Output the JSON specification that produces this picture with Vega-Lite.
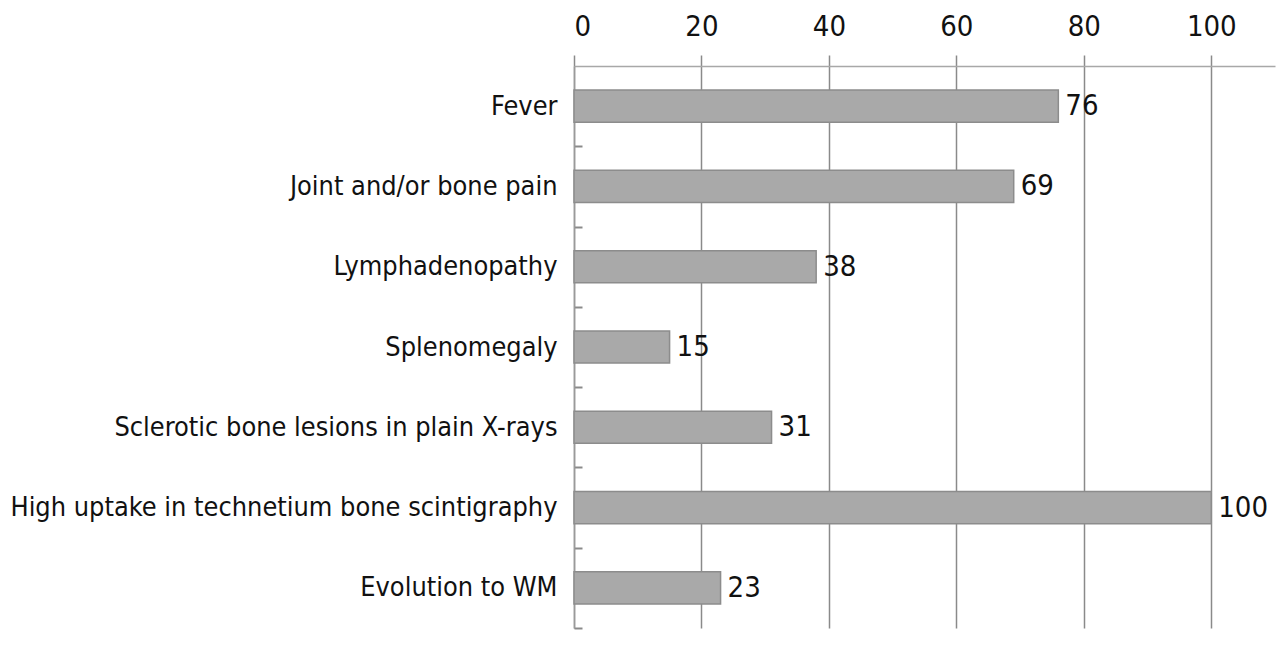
{
  "$schema": "https://vega.github.io/schema/vega-lite/v6.json",
  "autosize": "none",
  "width": 701,
  "height": 562,
  "padding": {"left": 574, "top": 66, "right": 5, "bottom": 22},
  "background": "white",
  "config": {"view": {"stroke": null}, "font": "DejaVu Sans Condensed"},
  "data": {"values": [
    {"item": "Fever", "pct": 76},
    {"item": "Joint and/or bone pain", "pct": 69},
    {"item": "Lymphadenopathy", "pct": 38},
    {"item": "Splenomegaly", "pct": 15},
    {"item": "Sclerotic bone lesions in plain X-rays", "pct": 31},
    {"item": "High uptake in technetium bone scintigraphy", "pct": 100},
    {"item": "Evolution to WM", "pct": 23}
  ]},
  "encoding": {
    "y": {"field": "item", "type": "nominal", "sort": null,
      "scale": {"paddingInner": 0.6, "paddingOuter": 0.3},
      "axis": {"title": null, "orient": "left", "domain": true, "domainColor": "#9a9a9a", "domainWidth": 1.5,
        "ticks": true, "tickSize": -8, "tickColor": "#8a8a8a", "tickWidth": 2,
        "tickOffset": 40.14, "labelOffset": -40.14,
        "labelFontSize": 26.9, "labelColor": "#111", "labelPadding": 25, "labelLimit": 600}},
    "x": {"field": "pct", "type": "quantitative",
      "scale": {"domain": [0, 110], "nice": false},
      "axis": {"title": null, "orient": "top", "values": [0, 20, 40, 60, 80, 100],
        "grid": true, "gridColor": "#8a8a8a", "gridWidth": 1.5,
        "domain": true, "domainColor": "#a8a8a8", "domainWidth": 1.5,
        "ticks": true, "tickSize": 11, "tickColor": "#8a8a8a", "tickWidth": 1.5,
        "labelFontSize": 29, "labelColor": "#111", "labelPadding": 14}}
  },
  "layer": [
    {"mark": {"type": "bar", "color": "#a9a9a9", "stroke": "#8c8c8c", "strokeWidth": 1.5}},
    {"mark": {"type": "text", "align": "left", "baseline": "middle", "dx": 7, "fontSize": 29, "color": "#111"},
     "encoding": {"text": {"field": "pct", "type": "quantitative"}}}
  ]
}
